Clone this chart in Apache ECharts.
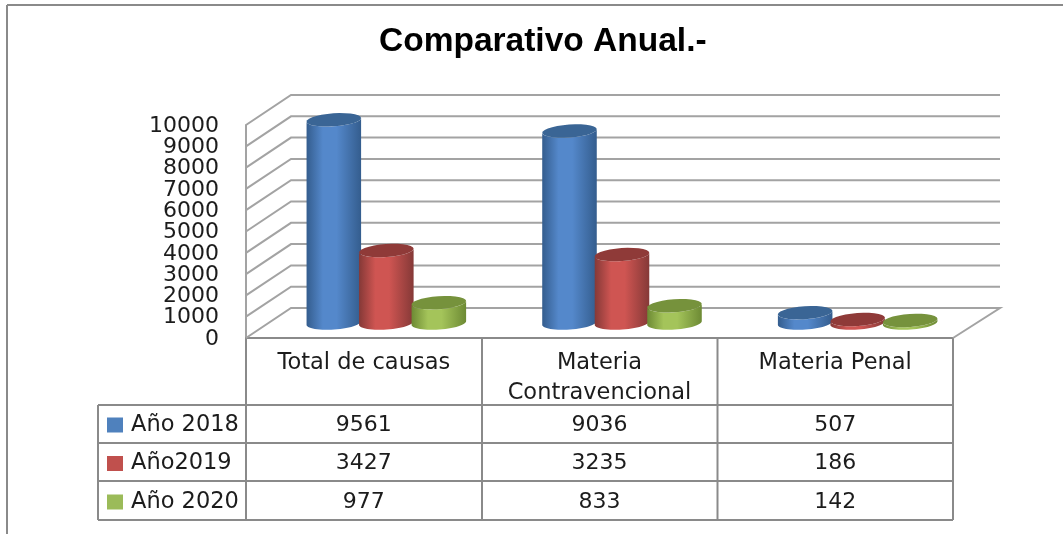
<!DOCTYPE html>
<html><head><meta charset="utf-8">
<style>html,body{margin:0;padding:0;background:#fff}#c{width:1063px;height:534px}</style>
<script src="https://cdn.jsdelivr.net/npm/echarts@6/dist/echarts.min.js"></script>
</head><body><div id="c"></div>
<script>
const categories = ['Total de causas', 'Materia\nContravencional', 'Materia Penal'];
const yearNames = ['Año 2018', 'Año2019', 'Año 2020'];
const values2018 = [9561, 9036, 507];
const values2019 = [3427, 3235, 186];
const values2020 = [977, 833, 142];
const yTicks = [0,1000,2000,3000,4000,5000,6000,7000,8000,9000,10000];

const FONT = 'DejaVu Sans';
const TXT = '#1c1c1c';
const LINE = '#8a8a8a';
const GRID = '#a3a3a3';
const rowY = [425, 463, 502];
const look = [
  {base:'#4f81bd', edge:'#345d8e', mid:'#5488cb', top:'#3a6595'},
  {base:'#c0504d', edge:'#853937', mid:'#cf5552', top:'#8f3a38'},
  {base:'#9bbb59', edge:'#6d8a34', mid:'#a4c45a', top:'#76923c'}
];
function ell(cx, cy, a, b, t0, t1) {
  const pts = [], tilt = -0.07, n = 28;
  for (let i = 0; i <= n; i++) {
    const t = t0 + (t1 - t0) * i / n;
    const x = a * Math.cos(t), y = b * Math.sin(t);
    pts.push([cx + x * Math.cos(tilt) - y * Math.sin(tilt), cy + x * Math.sin(tilt) + y * Math.cos(tilt)]);
  }
  return pts;
}
function barSeries(idx, vals) {
  const c = look[idx];
  return {
    type: 'custom', name: yearNames[idx], coordinateSystem: 'cartesian2d', clip: false, z: 3 + idx,
    itemStyle: {color: c.base},
    data: vals.map((v, i) => [i, v]),
    renderItem(params, api) {
      const i = api.value(0), v = api.value(1);
      const band = api.size([1, 0])[0];
      const pitch = band * 0.2228, a = band * 0.116;
      const front = api.coord([i, v]), zero = api.coord([i, 0]);
      const cx = front[0] + 22.5 + (idx - 1) * pitch;
      const top = front[1] - 14.5, bot = zero[1] - 15;
      const b = 6.5;
      const lower = ell(cx, bot, a, b, Math.PI, 0);
      const topLow = ell(cx, top, a, b, 0, Math.PI);
      const grad = {type:'linear', x:0, y:0, x2:1, y2:0, colorStops:[
        {offset:0, color:c.edge},{offset:0.3, color:c.mid},{offset:0.55, color:c.mid},{offset:1, color:c.edge}]};
      return {type:'group', children:[
        {type:'polygon', shape:{points: lower.concat(topLow)}, style:{fill:grad}},
        {type:'polygon', shape:{points: ell(cx, top, a, b, 0, Math.PI*2)}, style:{fill:c.top}},
        {type:'text', style:{text:String(v), x:zero[0], y:rowY[idx], align:'center', verticalAlign:'middle',
          font:'22px "'+FONT+'"', fill:TXT}}
      ]};
    }
  };
}
const wallSeries = {
  type:'custom', silent:true, clip:false, z:1, legendHoverLink:false,
  data: yTicks.map(t => [0, t]),
  renderItem(params, api) {
    const v = api.value(1);
    const p = api.coord([0, v]);
    const x0 = params.coordSys.x, x1 = x0 + params.coordSys.width;
    const pts = [[x0, p[1]], [x0 + 45, p[1] - 30], [x1 + 47, p[1] - 30]];
    if (v === 0) pts.push([x1, p[1]]);
    return {type:'group', children:[
      {type:'polyline', shape:{points:pts}, style:{stroke:GRID, lineWidth:2, fill:null}},
      {type:'text', style:{text:String(v), x:x0 - 27, y:p[1] + 1, align:'right', verticalAlign:'middle',
        font:'22px "'+FONT+'"', fill:TXT}}
    ]};
  }
};
const chart = echarts.init(document.getElementById('c'), null, {renderer:'canvas'});
const hl = (x1,x2,y) => ({type:'line', shape:{x1,y1:y,x2,y2:y}, style:{stroke:LINE, lineWidth:2}});
const vl = (x,y1,y2) => ({type:'line', shape:{x1:x,y1,x2:x,y2}, style:{stroke:LINE, lineWidth:2}});
chart.setOption({
  animation:false,
  backgroundColor:'#fff',
  title:{text:'Comparativo Anual.-', left:374, top:20, textStyle:{fontFamily:'Liberation Sans', fontWeight:'bold', fontSize:33.5, color:'#000'}},
  legend:{orient:'vertical', left:107, top:409, padding:0, itemWidth:16, itemHeight:15, itemGap:6.5, icon:'rect', selectedMode:false,
    textStyle:{fontFamily:FONT, fontSize:22.5, color:TXT, padding:[3,0,0,3], lineHeight:29},
    data:yearNames},
  grid:{left:246, right:110, top:125, bottom:196, outerBoundsMode:'none'},
  xAxis:{type:'category', data:categories, axisTick:{show:false},
    axisLine:{lineStyle:{color:LINE, width:2}},
    axisLabel:{interval:0, margin:10, fontFamily:FONT, fontSize:22.5, color:TXT, lineHeight:30, hideOverlap:false}},
  yAxis:{type:'value', min:0, max:10000, interval:1000, splitLine:{show:false}, axisTick:{show:false},
    axisLine:{show:true, lineStyle:{color:GRID, width:2}},
    axisLabel:{show:false}},
  series:[wallSeries, barSeries(0,values2018), barSeries(1,values2019), barSeries(2,values2020)],
  graphic:[
    hl(7,1063,5), vl(7,5,534),
    vl(246,338,520), vl(482,338,520), vl(717.5,338,520), vl(953,338,520), vl(98,405,520),
    hl(98,953,405), hl(98,953,443), hl(98,953,481), hl(98,953,520)
  ]
});
</script></body></html>
